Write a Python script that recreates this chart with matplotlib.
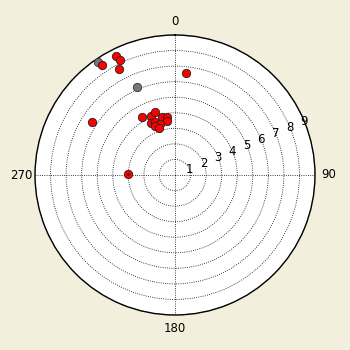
import numpy as np
import matplotlib
matplotlib.use('Agg')
import matplotlib.pyplot as plt

# data (theta in compass degrees, clockwise from north; r in radial units)
red_theta_deg = [326.6, 333.6, 334.6, 332.2, 6.4, 302.7, 271.4,
                 330.7, 338.2, 342.8, 347.4, 352.5, 351.9, 335.6, 339.8, 343.3, 338.1, 340.8]
red_r = [8.48, 8.53, 8.19, 7.72, 6.57, 6.32, 3.0,
         4.29, 4.10, 4.27, 3.83, 3.79, 3.50, 3.68, 3.66, 3.43, 3.38, 3.19]
grey_theta_deg = [325.7, 336.7]
grey_r = [8.83, 6.17]
dot_theta_deg = [271.4]
dot_r = [3.0]
r_ticks = [1, 2, 3, 4, 5, 6, 7, 8, 9]
theta_ticks = [0, 90, 180, 270]
rlabel_angle_deg = 67.5

bg = '#f2f0dc'
fig = plt.figure(figsize=(3.5, 3.5), dpi=100, facecolor=bg)
ax = fig.add_axes([0.1, 0.1, 0.8, 0.8], projection='polar')
ax.set_facecolor('white')
ax.set_theta_zero_location('N')
ax.set_theta_direction(-1)

ax.plot(np.deg2rad(grey_theta_deg), grey_r, 'o', color='#777777', mec='#333333',
        mew=0.6, ms=6, zorder=3)
ax.plot(np.deg2rad(red_theta_deg), red_r, 'o', color='red', mec='#222222',
        mew=0.6, ms=6, zorder=4)
ax.plot(np.deg2rad(dot_theta_deg), dot_r, '.', color='#550000', ms=2, zorder=5)

ax.set_ylim(0, 9)
ax.set_yticks(r_ticks)
ax.set_yticklabels([])
for v in r_ticks:
    ax.text(np.deg2rad(rlabel_angle_deg), v, str(v), ha='center', va='center',
            fontsize=8.5, zorder=6)
ax.set_xticks(np.deg2rad(theta_ticks))
ax.set_xticklabels([str(v) for v in theta_ticks])
ax.tick_params(axis='x', labelsize=8.5, pad=-1)
ax.grid(True, color='k', linestyle=':', linewidth=0.6)
ax.spines['polar'].set_linewidth(1.0)

fig.savefig('out.png', dpi=100, facecolor=bg)
